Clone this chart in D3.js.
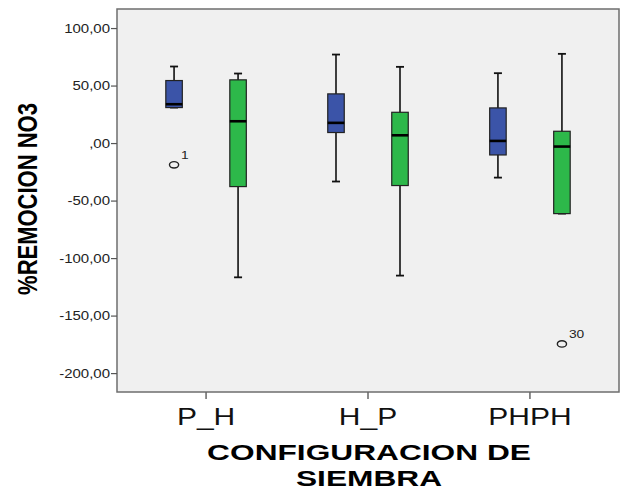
<!DOCTYPE html>
<html lang="es">
  <head>
    <meta charset="UTF-8" />
    <script src="https://d3js.org/d3.v7.min.js"></script>
    <title>%REMOCION NO3</title>
    <style>
      body { margin: 0; background: #fff; }
      text { font-family: "Liberation Sans", Arial, sans-serif; }
    </style>
  </head>
  <body>
    <div id="chart"></div>
    <script>
      // categorias del eje x
      var categories = ["P_H", "H_P", "PHPH"];
      var seriesNames = ["azul", "verde"];
      var seriesColors = ["#3b54a8", "#2db84a"];

      // [min, q1, mediana, q3, max] por categoria
      var blueStats = [
        [31.3, 31.3, 34.2, 54.8, 67.0],
        [-33.0, 9.6, 18.0, 43.2, 77.4],
        [-29.6, -9.9, 2.3, 31.0, 61.2]
      ];
      var greenStats = [
        [-116.3, -37.4, 19.4, 55.4, 60.9],
        [-114.8, -36.5, 7.2, 27.2, 66.7],
        [-60.9, -60.9, -2.6, 10.7, 78.0]
      ];

      var outlierCats = ["P_H", "PHPH"];
      var outlierSeries = ["azul", "verde"];
      var outlierValues = [-18.5, -174.2];
      var outlierLabels = ["1", "30"];

      var yTicks = [100, 50, 0, -50, -100, -150, -200];

      var width = 624,
        height = 491,
        plot = { left: 117, right: 619, top: 9, bottom: 392 },
        sx = 1.25; // el original esta estirado en horizontal

      var svg = d3
        .select("#chart")
        .append("svg")
        .attr("width", width)
        .attr("height", height);

      var x = d3
        .scaleBand()
        .domain(categories)
        .range([plot.left, plot.right])
        .paddingInner(0)
        .paddingOuter(0.05);

      var xSub = d3.scaleBand().domain(seriesNames).range([-64, 64]);

      var y = d3.scaleLinear().domain([-216, 117]).range([plot.bottom, plot.top]);

      svg
        .append("rect")
        .attr("x", plot.left)
        .attr("y", plot.top)
        .attr("width", plot.right - plot.left)
        .attr("height", plot.bottom - plot.top)
        .attr("fill", "#f0f0f0")
        .attr("stroke", "#6e6e6e")
        .attr("stroke-width", 1.5);

      // eje y
      var yAxis = svg.append("g");
      yAxis
        .selectAll("line")
        .data(yTicks)
        .enter()
        .append("line")
        .attr("x1", plot.left - 6)
        .attr("x2", plot.left)
        .attr("y1", function (d) { return y(d); })
        .attr("y2", function (d) { return y(d); })
        .attr("stroke", "#555")
        .attr("stroke-width", 1.2);

      var fmt = function (d) {
        var s = d3.format(".2f")(Math.abs(d)).replace(".", ",");
        if (Math.abs(d) < 1) s = s.replace(/^0/, "");
        return (d < 0 ? "-" : "") + s;
      };

      yAxis
        .selectAll("text")
        .data(yTicks)
        .enter()
        .append("text")
        .attr("transform", function (d) {
          return "translate(" + (plot.left - 7) + "," + (y(d) + 4) + ") scale(" + sx + ",1)";
        })
        .attr("text-anchor", "end")
        .attr("font-size", 12)
        .attr("fill", "#222")
        .text(fmt);

      // eje x
      var xAxis = svg.append("g");
      xAxis
        .selectAll("line")
        .data(categories)
        .enter()
        .append("line")
        .attr("x1", function (d) { return x(d) + x.bandwidth() / 2; })
        .attr("x2", function (d) { return x(d) + x.bandwidth() / 2; })
        .attr("y1", plot.bottom)
        .attr("y2", plot.bottom + 7)
        .attr("stroke", "#666")
        .attr("stroke-width", 1.5);

      xAxis
        .selectAll("text")
        .data(categories)
        .enter()
        .append("text")
        .attr("transform", function (d) {
          return "translate(" + (x(d) + x.bandwidth() / 2) + ",425) scale(" + sx + ",1)";
        })
        .attr("text-anchor", "middle")
        .attr("font-size", 24)
        .attr("fill", "#111")
        .text(function (d) { return d; });

      // titulos
      svg
        .append("text")
        .attr("transform", "translate(37,199) rotate(-90) scale(1," + sx + ")")
        .attr("text-anchor", "middle")
        .attr("font-size", 22)
        .attr("font-weight", "bold")
        .attr("fill", "#000")
        .text("%REMOCION NO3");

      svg
        .append("text")
        .attr("transform", "translate(369,460) scale(1.44,1)")
        .attr("text-anchor", "middle")
        .attr("font-size", 22)
        .attr("font-weight", "bold")
        .attr("fill", "#000")
        .text("CONFIGURACION DE");
      svg
        .append("text")
        .attr("transform", "translate(369,485.5) scale(1.44,1)")
        .attr("text-anchor", "middle")
        .attr("font-size", 22)
        .attr("font-weight", "bold")
        .attr("fill", "#000")
        .text("SIEMBRA");

      // cajas
      var boxes = [];
      categories.forEach(function (c, i) {
        boxes.push({ cat: c, series: "azul", color: seriesColors[0], s: blueStats[i] });
        boxes.push({ cat: c, series: "verde", color: seriesColors[1], s: greenStats[i] });
      });

      var boxW = 16.5,
        capW = 8;

      var g = svg
        .append("g")
        .selectAll("g.box")
        .data(boxes)
        .enter()
        .append("g")
        .attr("class", "box")
        .attr("transform", function (d) {
          return "translate(" + (x(d.cat) + x.bandwidth() / 2 + xSub(d.series) + xSub.bandwidth() / 2) + ",0)";
        });

      g.append("line")
        .attr("y1", function (d) { return y(d.s[0]); })
        .attr("y2", function (d) { return y(d.s[4]); })
        .attr("stroke", "#111")
        .attr("stroke-width", 1.6);

      g.selectAll("line.cap")
        .data(function (d) { return [d.s[0], d.s[4]]; })
        .enter()
        .append("line")
        .attr("class", "cap")
        .attr("x1", -capW / 2)
        .attr("x2", capW / 2)
        .attr("y1", function (v) { return y(v); })
        .attr("y2", function (v) { return y(v); })
        .attr("stroke", "#111")
        .attr("stroke-width", 1.8);

      g.append("rect")
        .attr("x", -boxW / 2)
        .attr("width", boxW)
        .attr("y", function (d) { return y(d.s[3]); })
        .attr("height", function (d) { return y(d.s[1]) - y(d.s[3]); })
        .attr("fill", function (d) { return d.color; })
        .attr("stroke", "#222")
        .attr("stroke-width", 1.2);

      g.append("line")
        .attr("x1", -boxW / 2)
        .attr("x2", boxW / 2)
        .attr("y1", function (d) { return y(d.s[2]); })
        .attr("y2", function (d) { return y(d.s[2]); })
        .attr("stroke", "#000")
        .attr("stroke-width", 2.6);

      // atipicos
      var outliers = outlierValues.map(function (v, i) {
        return { cat: outlierCats[i], series: outlierSeries[i], value: v, label: outlierLabels[i] };
      });

      var og = svg
        .append("g")
        .selectAll("g.out")
        .data(outliers)
        .enter()
        .append("g")
        .attr("transform", function (d) {
          return "translate(" + (x(d.cat) + x.bandwidth() / 2 + xSub(d.series) + xSub.bandwidth() / 2) + "," + y(d.value) + ")";
        });

      og.append("ellipse")
        .attr("rx", 4.6)
        .attr("ry", 3.2)
        .attr("fill", "none")
        .attr("stroke", "#222")
        .attr("stroke-width", 1.4);

      og.append("text")
        .attr("transform", "translate(7,-6) scale(" + sx + ",1)")
        .attr("font-size", 11)
        .attr("fill", "#222")
        .text(function (d) { return d.label; });
    </script>
  </body>
</html>
